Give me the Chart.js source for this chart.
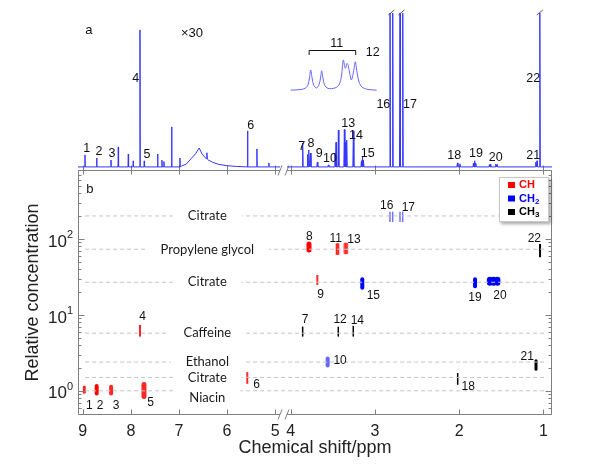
<!DOCTYPE html>
<html>
<head>
<meta charset="utf-8">
<script src="https://cdn.jsdelivr.net/npm/chart.js@4.4.1/dist/chart.umd.min.js"></script>
<style>
  html, body { margin: 0; padding: 0; background: #fff; }
  #wrap { position: relative; width: 600px; height: 468px; }
  #wrap canvas { position: absolute; left: 0; top: 0; }
</style>
</head>
<body>
<div id="wrap">
  <canvas id="bottomChart" width="600" height="468"></canvas>
  <canvas id="topChart" width="600" height="172"></canvas>
</div>
<script>
// broken ppm axis: left part 9.1-4.9, right part 4.04-0.9
const xLeft = [9.098, 4.90];
const xRight = [4.044, 0.897];
const xTickPpm = [9, 8, 7, 6, 5, 4, 3, 2, 1];
const yTickValues = [1, 10, 100];

// panel a: aromatic region (x30), sharp peaks, intensity in % of full scale
const aroPpm = [8.953, 8.710, 8.413, 8.261, 8.053, 7.950, 7.810, 7.721, 7.443, 7.354, 7.312, 7.152, 6.980, 5.574, 5.380, 5.131];
const aroInt = [7.8, 5.8, 4.5, 13, 8.4, 3.9, 89, 3.9, 8.4, 4.4, 3.5, 26, 5.8, 23.4, 11.7, 2.6];
// broad hump around 6.6 ppm
const humpPpm = [6.95, 6.85, 6.74, 6.65, 6.58, 6.52, 6.45, 6.43, 6.42, 6.41, 6.39, 6.30, 6.18, 6.00, 5.80];
const humpInt = [0.5, 1.8, 5.6, 8.8, 12.3, 8.5, 5.8, 5.4, 9.2, 5.1, 4.5, 3.0, 1.7, 0.8, 0.3];
// aliphatic region
const aliPpm = [3.858, 3.800, 3.783, 3.765, 3.684, 3.553, 3.475, 3.462, 3.434, 3.363, 3.350, 3.335, 3.256, 3.160, 3.147, 3.135,
                2.821, 2.789, 2.702, 2.670, 2.020, 1.990, 1.830, 1.815, 1.800, 1.640, 1.625, 1.565, 1.550, 1.090, 1.075, 1.042];
const aliInt = [15.6, 8, 11, 9, 3.2, 1.3, 9, 16, 24, 24.3, 16, 17.5, 23.4, 4, 6.5, 4.5,
                130, 130, 130, 130, 2.6, 2, 2.5, 4, 2.5, 1.5, 1.8, 1.8, 1.5, 3, 4, 130];
const clippedPpm = [2.805, 2.686, 1.042];

// inset: multiplet 11 enlarged
const insetPpm = [4.0, 3.89, 3.83, 3.795, 3.777, 3.763, 3.746, 3.729, 3.694, 3.664, 3.646, 3.632, 3.617, 3.599, 3.557, 3.474, 3.426, 3.397, 3.375,
                  3.352, 3.328, 3.302, 3.28, 3.254, 3.233, 3.213, 3.189, 3.153, 3.082, 2.979];
const insetInt = [49.9, 50.2, 51, 53.3, 57.8, 63, 57.8, 53.3, 51.3, 53.3, 57.8, 62.5, 57.8, 53.3, 51, 51.3, 53.3, 59.1, 69.5,
                  64.1, 67.3, 61.7, 56.5, 61.7, 68.3, 61.7, 55.2, 51.9, 50.3, 49.9];
const bracketPpm = [3.781, 3.228];
const bracketInt = [76.0, 72.7];

const specLabel = ['1', '2', '3', '4', '5', '6', '7', '8', '9', '10', '13', '14', '15', '16', '17', '18', '19', '20', '21', '22', '11', '12'];
const specLabelPpm = [8.917, 8.662, 8.392, 7.899, 7.664, 5.509, 3.869, 3.759, 3.66, 3.533, 3.316, 3.224, 3.086, 2.90, 2.583, 2.057, 1.799, 1.565, 1.119, 1.119, 3.454, 3.026];
const specLabelInt = [12.1, 9.9, 8.4, 57.6, 7.8, 26.8, 13.1, 15.3, 8.8, 5.6, 28.3, 20.7, 8.4, 40.7, 40.7, 7.7, 8.4, 6.0, 7.7, 57.1, 80.3, 74.5];
const noteText = ['a', '\u00d730'];
const notePpm = [8.87, 6.729];
const noteInt = [88.5, 87.0];

// panel b: relative concentration per signal (low / high of spread)
const markerPpm   = [8.967, 8.71, 8.41, 7.81, 7.727, 5.58, 3.858, 3.783, 3.684, 3.561, 3.454, 3.435, 3.435, 3.355, 3.335, 3.257, 3.150,
                     2.821, 2.789, 2.702, 2.670, 2.017, 1.811, 1.635, 1.59, 1.545, 1.087, 1.039];
const markerLow   = [0.955, 0.922, 0.922, 5.18, 0.839, 1.236, 5.18, 71.3, 24.8, 2.15, 61.7, 61.7, 5.18, 65.6, 65.6, 5.18, 22.7,
                     166.9, 166.9, 166.9, 166.9, 1.199, 23.8, 26.5, 26.5, 26.5, 1.918, 57.5];
const markerHigh  = [1.122, 1.153, 1.129, 7.38, 1.207, 1.763, 7.0, 85.6, 33.5, 2.66, 87.7, 87.7, 7.0, 85.6, 85.6, 7.17, 29.5,
                     228.7, 228.7, 228.7, 228.7, 1.711, 29.5, 29.1, 29.1, 29.1, 2.496, 86.0];
const markerGroup = ['CH', 'CH', 'CH', 'CH', 'CH', 'CH', 'CH3', 'CH', 'CH', 'CH2', 'CH', 'CH', 'CH3', 'CH', 'CH', 'CH3', 'CH2',
                     'CH2', 'CH2', 'CH2', 'CH2', 'CH3', 'CH2', 'CH2', 'CH2', 'CH2', 'CH3', 'CH3'];
// marker look
const markerWidth = [3, 4, 4, 2, 5, 2, 1.5, 5, 2, 4, 2, 2, 1.5, 3, 3, 1.5, 4, 1.5, 1.5, 1.5, 1.5, 1.5, 4, 6, 6, 6, 3, 2];
const markerAlpha = [0.85, 1, 0.85, 0.85, 0.85, 0.85, 1, 1, 0.85, 0.6, 0.85, 0.85, 1, 0.7, 0.7, 1, 1, 0.55, 0.55, 0.55, 0.55, 1, 1, 1, 1, 1, 1, 1];

const markerText    = ['1', '2', '3', '4', '5', '6', '7', '8', '9', '10', '11', '12', '13', '14', '15', '16', '17', '18', '19', '20', '21', '22'];
const markerTextPpm = [8.863, 8.64, 8.309, 7.754, 7.588, 5.387, 3.83, 3.779, 3.644, 3.414, 3.466, 3.414, 3.248, 3.209, 3.019, 2.86, 2.603, 1.891, 1.811, 1.514, 1.191, 1.107];
const markerTextVal = [0.635, 0.635, 0.635, 9.49, 0.689, 1.189, 8.77, 107, 18.3, 2.5, 102, 8.6, 97, 8.4, 17.8, 272, 258, 1.14, 16.6, 17.8, 2.78, 102];

const levelNames = ['Citrate', 'Propylene glycol', 'Citrate', 'Caffeine', 'Ethanol', 'Citrate', 'Niacin'];
const levelValue = [201, 73.3, 26.9, 5.74, 2.39, 1.50, 1.0];
const levelLabelVal = [201, 71, 26.9, 5.74, 2.39, 1.50, 0.81];
const levelLabelPpm = 6.41;

const legendNames = ['CH', 'CH', 'CH'];
const legendSub = ['', '2', '3'];
const legendKeys = ['CH', 'CH2', 'CH3'];

const groupRGB = { CH: '255,0,0', CH2: '0,0,255', CH3: '0,0,0' };
const FONT = "'Liberation Sans', Arial, sans-serif";
Chart.defaults.font.family = FONT;
Chart.defaults.color = '#222';

// map ppm onto the broken axis (units = plot pixels)
const partL = 202, gap = 7, partR = 265;
const uMax = partL + gap + partR;
function u(ppm) {
    if (ppm > (xLeft[1] + xRight[0]) / 2) {
        return (xLeft[0] - ppm) / (xLeft[0] - xLeft[1]) * partL;
    }
    return partL + gap + (xRight[0] - ppm) / (xRight[0] - xRight[1]) * partR;
}

function xScale(show) {
    const sc = {
        type: 'linear', min: 0, max: uMax, display: show,
        grid: { display: false, drawTicks: false },
        border: { display: false },
        afterBuildTicks: s => { s.ticks = xTickPpm.map(p => ({ value: u(p) })); },
        ticks: {
            autoSkip: false, maxRotation: 0, padding: 7, color: '#222',
            font: { size: 16 },
            callback: (v, i) => String(xTickPpm[i])
        },
        title: {
            display: show, text: 'Chemical shift/ppm', color: '#222',
            font: { size: 18 }, padding: { top: 0, bottom: 9 }
        }
    };
    if (show) sc.afterFit = s => { s.height = 53; };
    return sc;
}

// ---------- panel a ----------
function spectrumPoints() {
    let pts = [];
    aroPpm.forEach((p, i) => pts.push([p + 0.006, 0], [p, aroInt[i]], [p - 0.006, 0]));
    humpPpm.forEach((p, i) => pts.push([p, humpInt[i]]));
    aliPpm.forEach((p, i) => pts.push([p + 0.006, 0], [p, aliInt[i]], [p - 0.006, 0]));
    pts.push([xLeft[0], 0], [xLeft[1], 0], [xRight[0], 0], [xRight[1], 0]);
    pts.sort((a, b) => b[0] - a[0]);
    const mid = (xLeft[1] + xRight[0]) / 2;
    const left = pts.filter(q => q[0] > mid).map(q => ({ x: u(q[0]), y: q[1] }));
    const right = pts.filter(q => q[0] <= mid).map(q => ({ x: u(q[0]), y: q[1] }));
    return left.concat([{ x: u(mid), y: null }], right);
}

const topDecor = {
    id: 'topDecor',
    afterDatasetsDraw(chart) {
        const { ctx, chartArea: a, scales: { x, y } } = chart;
        ctx.save();
        // cut marks on off-scale peaks
        ctx.strokeStyle = '#555';
        ctx.lineWidth = 1;
        ctx.beginPath();
        clippedPpm.forEach(p => {
            const px = x.getPixelForValue(u(p));
            ctx.moveTo(px - 3, a.top + 2);
            ctx.lineTo(px + 3, a.top - 3);
        });
        ctx.stroke();
        // bracket over the inset
        const b0 = x.getPixelForValue(u(bracketPpm[0])), b1 = x.getPixelForValue(u(bracketPpm[1]));
        const by = Math.round(y.getPixelForValue(bracketInt[0])) + 0.5, by2 = y.getPixelForValue(bracketInt[1]);
        ctx.beginPath();
        ctx.moveTo(b0, by2); ctx.lineTo(b0, by); ctx.lineTo(b1, by); ctx.lineTo(b1, by2);
        ctx.strokeStyle = '#111';
        ctx.stroke();

        ctx.fillStyle = '#111';
        ctx.textAlign = 'center';
        ctx.textBaseline = 'middle';
        ctx.font = '12.5px ' + FONT;
        specLabel.forEach((t, i) => {
            ctx.fillText(t, x.getPixelForValue(u(specLabelPpm[i])), y.getPixelForValue(specLabelInt[i]));
        });
        ctx.font = '13px ' + FONT;
        noteText.forEach((t, i) => {
            ctx.fillText(t, x.getPixelForValue(u(notePpm[i])), y.getPixelForValue(noteInt[i]));
        });
        ctx.restore();
    }
};

new Chart(document.getElementById('topChart'), {
    type: 'line',
    data: {
        datasets: [
            {
                data: spectrumPoints(),
                borderColor: '#3535ff', borderWidth: 1, pointRadius: 0, spanGaps: false
            },
            {
                data: insetPpm.map((p, i) => ({ x: u(p), y: insetInt[i] })),
                borderColor: '#6464ff', borderWidth: 1, pointRadius: 0, tension: 0.3
            }
        ]
    },
    options: {
        responsive: false, animation: false, devicePixelRatio: 1, events: [],
        layout: { padding: { left: 78, right: 48, top: 13, bottom: 2 } },
        scales: {
            x: xScale(false),
            y: { type: 'linear', min: -2, max: 100, display: false }
        },
        plugins: { legend: { display: false }, tooltip: { enabled: false } }
    },
    plugins: [topDecor]
});

// ---------- panel b ----------
const bottomDecor = {
    id: 'bottomDecor',
    afterDatasetsDraw(chart) {
        const { ctx, chartArea: a, scales: { x, y } } = chart;
        ctx.save();
        // compound names over the dashed levels
        ctx.font = '13px Lato, "Noto Sans", sans-serif';
        ctx.textAlign = 'center';
        ctx.textBaseline = 'middle';
        levelNames.forEach((n, i) => {
            const px = x.getPixelForValue(u(levelLabelPpm));
            const py = y.getPixelForValue(levelLabelVal[i]);
            const w = ctx.measureText(n).width + 30;
            ctx.fillStyle = '#fff';
            ctx.fillRect(px - w / 2, py - 8, w, 16);
            ctx.fillStyle = '#1a1a1a';
            ctx.fillText(n, px, py);
        });
        // signal numbers
        ctx.font = '12px ' + FONT;
        ctx.fillStyle = '#111';
        markerText.forEach((t, i) => {
            ctx.fillText(t, x.getPixelForValue(u(markerTextPpm[i])), y.getPixelForValue(markerTextVal[i]));
        });
        ctx.font = '13px ' + FONT;
        ctx.fillText('b', x.getPixelForValue(u(8.849)), y.getPixelForValue(449));
        ctx.restore();
    },
    afterDraw(chart) {
        const { ctx, chartArea: a, scales: { x, y } } = chart;
        const gL = x.getPixelForValue(u(xLeft[1])), gR = x.getPixelForValue(u(xRight[0]));
        const L = a.left + 0.5, R = a.right - 0.5, T = a.top + 0.5, B = a.bottom - 0.5;
        ctx.save();
        ctx.strokeStyle = '#808080';
        ctx.lineWidth = 1;
        ctx.beginPath();
        ctx.moveTo(gL, T); ctx.lineTo(L, T); ctx.lineTo(L, B); ctx.lineTo(gL, B);
        ctx.moveTo(gR, T); ctx.lineTo(R, T); ctx.lineTo(R, B); ctx.lineTo(gR, B);
        xTickPpm.forEach(p => {
            const px = Math.round(x.getPixelForValue(u(p))) + 0.5;
            ctx.moveTo(px, B); ctx.lineTo(px, B - 5);
            ctx.moveTo(px, T - 5); ctx.lineTo(px, T + 4);
        });
        const k0 = Math.floor(Math.log10(y.min)), k1 = Math.ceil(Math.log10(y.max));
        for (let k = k0; k <= k1; k++) {
            for (let m = 1; m <= 9; m++) {
                const v = m * Math.pow(10, k);
                if (v < y.min || v > y.max) continue;
                const py = Math.round(y.getPixelForValue(v)) + 0.5;
                const len = m === 1 ? 6 : 3;
                ctx.moveTo(L, py); ctx.lineTo(L + len, py);
                ctx.moveTo(R, py); ctx.lineTo(R - len, py);
            }
        }
        [gL, gR].forEach(gx => {
            [T, B].forEach(yy => { ctx.moveTo(gx - 2, yy + 5); ctx.lineTo(gx + 2, yy - 5); });
        });
        ctx.stroke();

        // y tick labels 10^n
        ctx.fillStyle = '#222';
        ctx.textBaseline = 'middle';
        yTickValues.forEach(v => {
            const py = y.getPixelForValue(v);
            ctx.font = '17px ' + FONT;
            ctx.textAlign = 'right';
            ctx.fillText('10', a.left - 11, py + 3);
            ctx.font = '11px ' + FONT;
            ctx.textAlign = 'left';
            ctx.fillText(String(Math.round(Math.log10(v))), a.left - 11, py - 4);
        });

        // legend
        const lw = 50, lh = 45, lx = a.right - 53, ly = a.top + 7;
        ctx.save();
        ctx.shadowColor = 'rgba(0,0,0,0.35)';
        ctx.shadowOffsetX = 2; ctx.shadowOffsetY = 2; ctx.shadowBlur = 3;
        ctx.fillStyle = '#fff';
        ctx.fillRect(lx, ly, lw, lh);
        ctx.restore();
        ctx.strokeStyle = '#c8c8c8';
        ctx.strokeRect(lx + 0.5, ly + 0.5, lw - 1, lh - 1);
        legendNames.forEach((n, i) => {
            const cy = ly + 8 + i * 13.5;
            const col = 'rgb(' + groupRGB[legendKeys[i]] + ')';
            ctx.fillStyle = col;
            ctx.fillRect(lx + 9, cy - 3, 7, 6);
            ctx.font = 'bold 11px ' + FONT;
            ctx.textAlign = 'left';
            ctx.fillText(n, lx + 20, cy);
            if (legendSub[i]) {
                const w = ctx.measureText(n).width;
                ctx.font = 'bold 8px ' + FONT;
                ctx.fillText(legendSub[i], lx + 20 + w, cy + 3);
            }
        });
        ctx.restore();
    }
};

const levelSets = levelValue.map(v => ({
    data: [{ x: u(8.95), y: v }, { x: u(0.95), y: v }],
    borderColor: '#c4c4c4', borderWidth: 1, borderDash: [4, 3], pointRadius: 0
}));
const markerSets = markerPpm.map((p, i) => ({
    data: [{ x: u(p), y: markerLow[i] }, { x: u(p), y: markerHigh[i] }],
    borderColor: 'rgba(' + groupRGB[markerGroup[i]] + ',' + markerAlpha[i] + ')',
    borderWidth: markerWidth[i],
    borderCapStyle: markerWidth[i] >= 3 ? 'round' : 'butt',
    pointRadius: 0
}));

new Chart(document.getElementById('bottomChart'), {
    type: 'line',
    data: { datasets: levelSets.concat(markerSets) },
    options: {
        responsive: false, animation: false, devicePixelRatio: 1, events: [],
        layout: { padding: { left: 0, right: 48, top: 170, bottom: 0 } },
        scales: {
            x: xScale(true),
            y: {
                type: 'logarithmic', min: 0.48, max: 810,
                grid: { display: false }, border: { display: false },
                ticks: { display: false },
                afterFit: s => { s.width = 78; },
                title: {
                    display: true, text: 'Relative concentration', color: '#222',
                    font: { size: 18 }, padding: { top: 22, bottom: 0 }
                }
            }
        },
        plugins: { legend: { display: false }, tooltip: { enabled: false } }
    },
    plugins: [bottomDecor]
});
</script>
</body>
</html>
